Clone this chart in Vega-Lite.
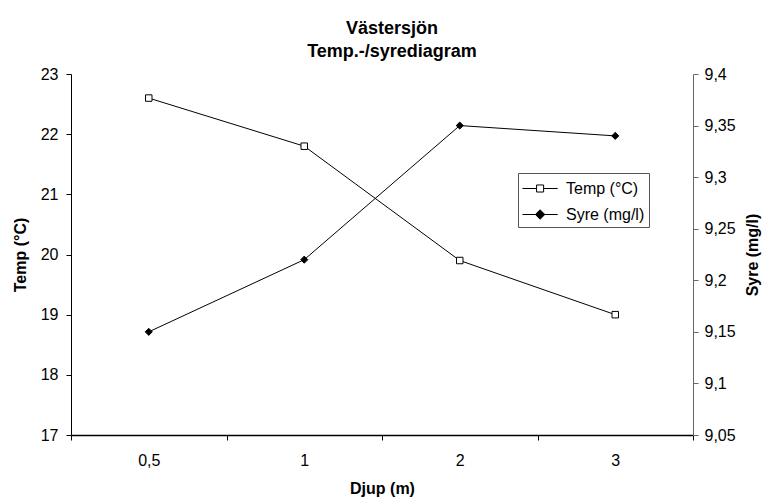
{
  "$schema": "https://vega.github.io/schema/vega-lite/v6.json",
  "autosize": "none",
  "width": 622,
  "height": 361,
  "padding": {"left": 71, "top": 74, "right": 76, "bottom": 66},
  "background": "white",
  "config": {
    "font": "Liberation Sans",
    "view": {"stroke": null},
    "axis": {"labelFont": "Liberation Sans", "titleFont": "Liberation Sans", "labelColor": "black", "titleColor": "black", "domainColor": "black", "tickColor": "black", "grid": false}
  },
  "title": {
    "text": ["Västersjön", "Temp.-/syrediagram"],
    "fontSize": 18,
    "fontWeight": "bold",
    "font": "Liberation Sans",
    "lineHeight": 23,
    "anchor": "middle",
    "frame": "group",
    "offset": 5,
    "dx": 10,
    "color": "black"
  },
  "data": {
    "values": [
      {"djup": "0,5", "serie": "Temp (°C)", "varde": 22.6},
      {"djup": "1", "serie": "Temp (°C)", "varde": 21.8},
      {"djup": "2", "serie": "Temp (°C)", "varde": 19.9},
      {"djup": "3", "serie": "Temp (°C)", "varde": 19.0},
      {"djup": "0,5", "serie": "Syre (mg/l)", "varde": 9.15},
      {"djup": "1", "serie": "Syre (mg/l)", "varde": 9.22},
      {"djup": "2", "serie": "Syre (mg/l)", "varde": 9.35},
      {"djup": "3", "serie": "Syre (mg/l)", "varde": 9.34}
    ]
  },
  "encoding": {
    "x": {
      "field": "djup",
      "type": "ordinal",
      "sort": ["0,5", "1", "2", "3"],
      "scale": {"type": "band", "paddingInner": 0, "paddingOuter": 0},
      "axis": {
        "title": "Djup (m)",
        "titleFontSize": 16,
        "titleFontWeight": "bold",
        "titlePadding": 12,
        "labelFontSize": 16,
        "labelAngle": 0,
        "labelPadding": 12,
        "tickBand": "extent",
        "tickSize": 5,
        "domainWidth": 1.5
      }
    }
  },
  "layer": [
    {
      "transform": [{"filter": "datum.serie == 'Temp (°C)'"}],
      "encoding": {
        "y": {
          "field": "varde",
          "type": "quantitative",
          "scale": {"domain": [17, 23], "nice": false, "zero": false},
          "axis": {
            "title": "Temp (°C)",
            "titleFontSize": 16,
            "titleFontWeight": "bold",
            "titlePadding": 12,
            "values": [17, 18, 19, 20, 21, 22, 23],
            "labelFontSize": 16,
            "labelPadding": 8,
            "tickSize": 5
          }
        }
      },
      "layer": [
        {"mark": {"type": "line", "color": "black", "strokeWidth": 1}},
        {"mark": {"type": "point", "shape": "square", "fill": "white", "stroke": "black", "strokeWidth": 1, "size": 42, "opacity": 1}}
      ]
    },
    {
      "transform": [{"filter": "datum.serie == 'Syre (mg/l)'"}],
      "encoding": {
        "y": {
          "field": "varde",
          "type": "quantitative",
          "scale": {"domain": [9.05, 9.4], "nice": false, "zero": false},
          "axis": {
            "orient": "right",
            "title": "Syre (mg/l)",
            "titleFontSize": 16,
            "titleFontWeight": "bold",
            "titleAngle": 270,
            "titleBaseline": "top",
            "titlePadding": 9,
            "values": [9.05, 9.1, 9.15, 9.2, 9.25, 9.3, 9.35, 9.4],
            "labelExpr": "replace(format(datum.value, '.2~f'), '.', ',')",
            "labelFontSize": 16,
            "labelPadding": 6,
            "tickSize": 5,
            "domainColor": "#666666",
            "tickColor": "#666666"
          }
        }
      },
      "layer": [
        {"mark": {"type": "line", "color": "black", "strokeWidth": 1}},
        {"mark": {"type": "point", "shape": "diamond", "fill": "black", "stroke": "black", "strokeWidth": 1, "size": 50, "opacity": 1}},
        {
          "mark": {"type": "point", "strokeWidth": 1, "size": 0, "opacity": 1},
          "encoding": {
            "shape": {
              "field": "serie", "type": "nominal",
              "scale": {"domain": ["Temp (°C)", "Syre (mg/l)"], "range": ["M-1,0H0.28M0.92,0H2.2M0.28,-0.32H0.92V0.32H0.28Z", "M-1,0H2.2M0.6,-0.43L1.03,0L0.6,0.43L0.17,0Z"]},
              "legend": {
                "title": null,
                "orient": "none",
                "legendX": 447,
                "legendY": 99,
                "strokeColor": "#555555",
                "padding": 4,
                "labelFontSize": 16,
                "labelFont": "Liberation Sans",
                "labelColor": "black",
                "symbolSize": 484,
                "symbolStrokeWidth": 1,
                "symbolOpacity": 1,
                "rowPadding": 6,
                "labelOffset": 21
              }
            },
            "fill": {
              "field": "serie", "type": "nominal",
              "scale": {"domain": ["Temp (°C)", "Syre (mg/l)"], "range": ["white", "black"]}
            },
            "stroke": {
              "field": "serie", "type": "nominal",
              "scale": {"domain": ["Temp (°C)", "Syre (mg/l)"], "range": ["black", "black"]}
            }
          }
        }
      ]
    }
  ],
  "resolve": {"scale": {"y": "independent"}}
}
